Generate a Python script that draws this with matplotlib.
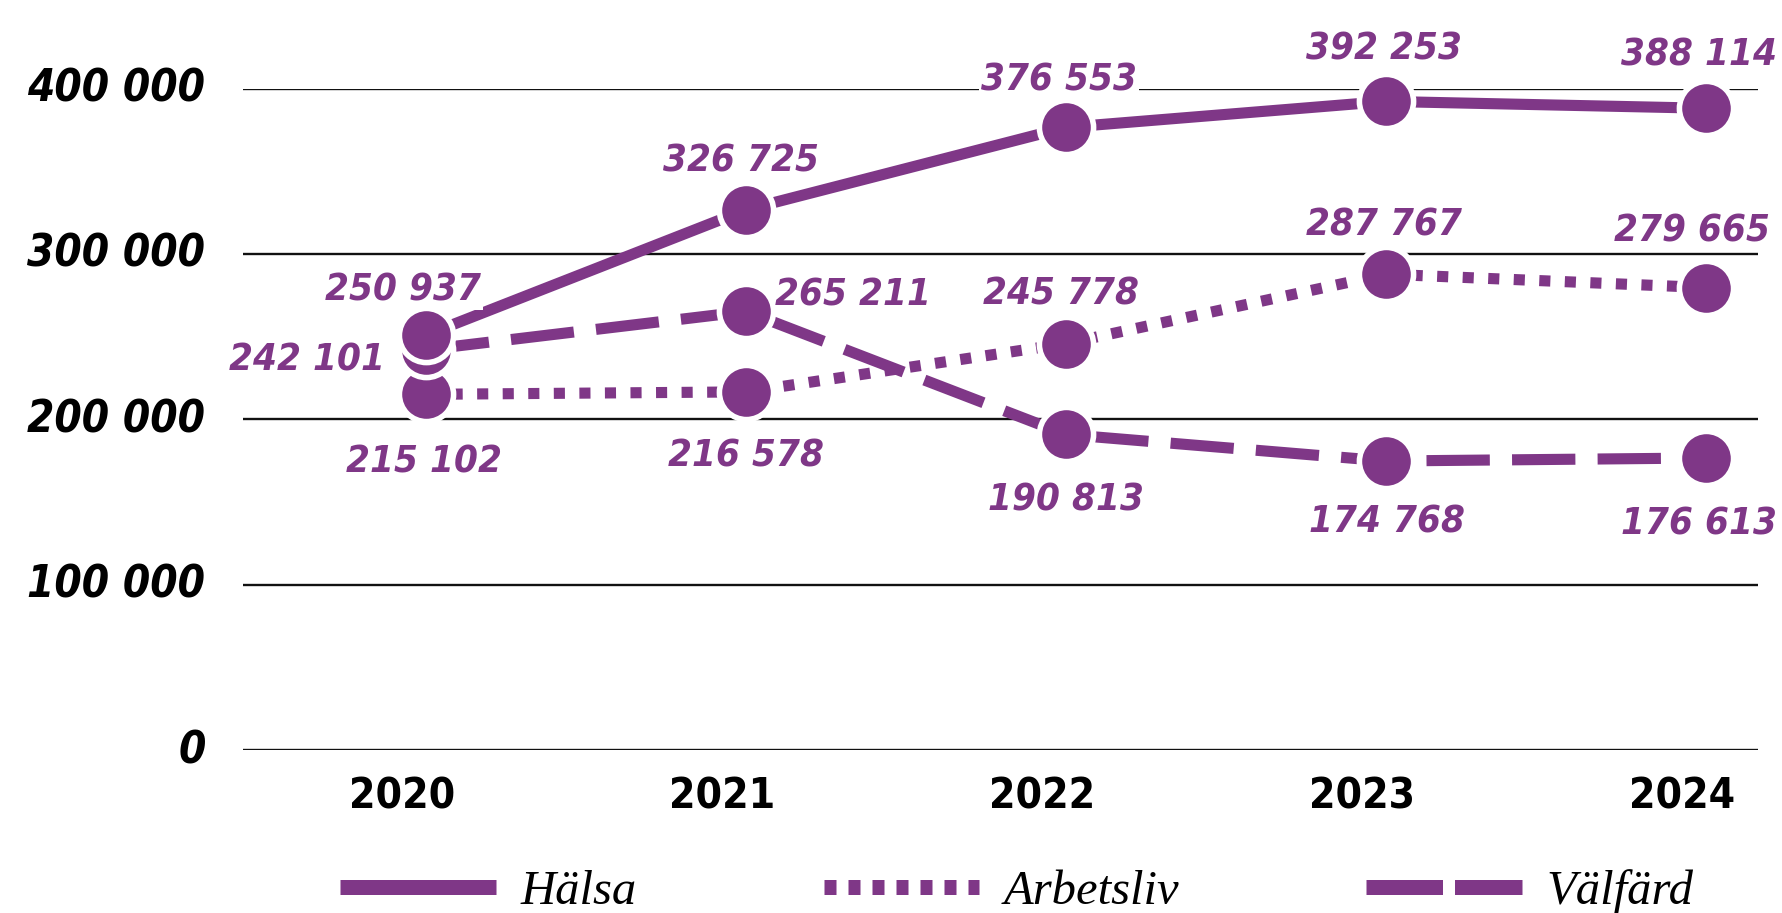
import matplotlib
matplotlib.use("Agg")
import matplotlib.pyplot as plt
from matplotlib.lines import Line2D
from matplotlib.transforms import ScaledTranslation

# ---- data ----
years = ["2020", "2021", "2022", "2023", "2024"]
halsa = [250937, 326725, 376553, 392253, 388114]
arbetsliv = [215102, 216578, 245778, 287767, 279665]
valfard = [242101, 265211, 190813, 174768, 176613]
series_names = ["Hälsa", "Arbetsliv", "Välfärd"]
yticks = [0, 100000, 200000, 300000, 400000]

# label offsets in pixels (dx, dy, ha)
off_halsa = [(-23, 45, "center"), (-5, 48, "center"), (-7, 47, "center"), (-2, 52, "center"), (-7, 53, "center")]
off_arbets = [(-2, -68, "center"), (0, -65, "center"), (-5, 49, "center"), (-2, 49, "center"), (-14, 56, "center")]
off_valf = [(-41, -11, "right"), (107, 16, "center"), (0, -66, "center"), (1, -61, "center"), (-7, -67, "center")]

PURPLE = "#7f3787"

def fmt(v):
    return f"{v:,}".replace(",", " ")

fig = plt.figure(figsize=(17.82, 9.13), dpi=100)
ax = fig.add_axes([243/1782, 1-750/913, 1515/1782, 661.4/913])

x = list(range(len(years)))
ax.set_xlim(-0.572, 4.1625)
ax.set_ylim(0, 400000)

LW = 8
ms = 39
mew = 4
ax.plot(x, arbetsliv, color=PURPLE, lw=LW, linestyle=(0, (1.0, 1.3)), dash_capstyle="butt",
        marker="o", ms=ms, mfc=PURPLE, mec="white", mew=mew, zorder=3, clip_on=False)
ax.plot(x, valfard, color=PURPLE, lw=LW, linestyle=(0, (5.7, 2.0)), dash_capstyle="butt",
        marker="o", ms=ms, mfc=PURPLE, mec="white", mew=mew, zorder=4, clip_on=False)
ax.plot(x, halsa, color=PURPLE, lw=LW, linestyle="-", solid_capstyle="butt",
        marker="o", ms=ms, mfc=PURPLE, mec="white", mew=mew, zorder=5, clip_on=False)

lab_font = dict(family="DejaVu Sans", fontstretch="condensed", weight="bold", style="italic", size=27.5)
for vals, offs in ((halsa, off_halsa), (arbetsliv, off_arbets), (valfard, off_valf)):
    for xi, v, (dx, dy, ha) in zip(x, vals, offs):
        ax.annotate(fmt(v), (xi, v), xytext=(dx, dy), textcoords="offset pixels",
                    ha=ha, va="center", color=PURPLE, zorder=6, annotation_clip=False,
                    bbox=dict(fc="white", ec="none", pad=1.5), **lab_font)

# grid
for yt in yticks:
    ax.axhline(yt, color="#111111", lw=1.7, zorder=1)
for s in ax.spines.values():
    s.set_visible(False)

ax.set_yticks(yticks)
ax.set_yticklabels([fmt(v) for v in yticks])
ax.set_xticks(x)
ax.set_xticklabels(years)
ax.tick_params(axis="both", length=0)
ax.tick_params(axis="y", pad=27)
ax.tick_params(axis="x", pad=18.5)
yshift = ScaledTranslation(0, 4/100, fig.dpi_scale_trans)
for t in ax.get_yticklabels():
    t.set_fontfamily("DejaVu Sans")
    t.set_fontstretch("condensed")
    t.set_fontweight("bold")
    t.set_fontstyle("italic")
    t.set_fontsize(31.5)
    t.set_transform(t.get_transform() + yshift)
shift = ScaledTranslation(-24/100, 0, fig.dpi_scale_trans)
for t in ax.get_xticklabels():
    t.set_fontfamily("DejaVu Sans")
    t.set_fontstretch("condensed")
    t.set_fontweight("bold")
    t.set_fontsize(30.5)
    t.set_transform(t.get_transform() + shift)

# legend
hl = [
    Line2D([], [], color=PURPLE, lw=10.8, linestyle="-", solid_capstyle="butt"),
    Line2D([], [], color=PURPLE, lw=10.8, linestyle=(0, (0.8, 0.8)), dash_capstyle="butt"),
    Line2D([], [], color=PURPLE, lw=10.8, linestyle=(0, (5.1, 0.8)), dash_capstyle="butt"),
]
fig.legend(hl, series_names, loc="center", bbox_to_anchor=(0.5705, 1-892/913), ncol=3,
           frameon=False, handlelength=3.2, handletextpad=0.5, columnspacing=3.85,
           prop=dict(family="Liberation Serif", style="italic", size=35))

fig.savefig("out.png", dpi=100)
